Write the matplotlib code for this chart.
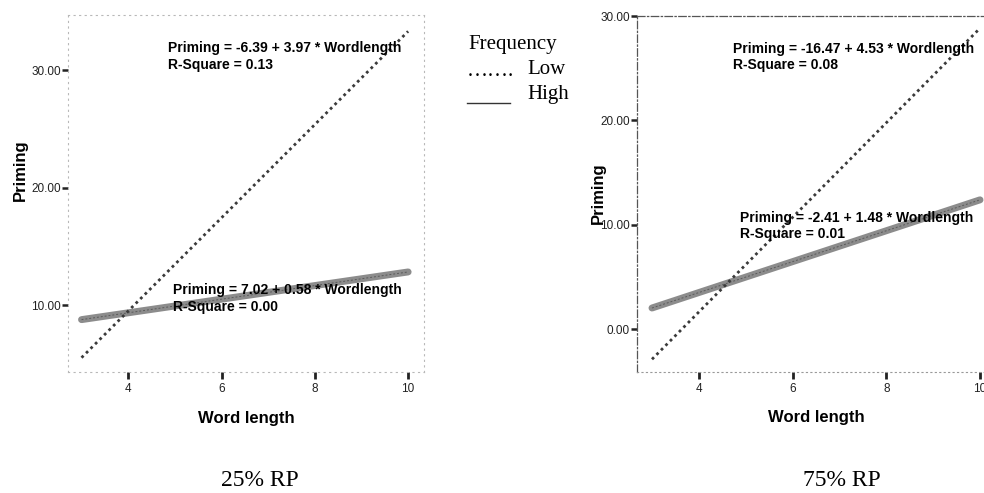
import matplotlib
matplotlib.use("Agg")
import matplotlib.pyplot as plt
from matplotlib.lines import Line2D
import numpy as np

# regression fits
rp_conditions = ['25% RP', '75% RP']
freq_levels = ['Low', 'High']
word_len_range = [3, 10]
low_intercept = [-6.39, -16.47]
low_slope = [3.97, 4.53]
low_r2 = [0.13, 0.08]
high_intercept = [7.02, -2.41]
high_slope = [0.58, 1.48]
high_r2 = [0.00, 0.01]
x_ticks = [4, 6, 8, 10]
y_ticks_left = [10, 20, 30]
y_ticks_right = [0, 10, 20, 30]

plt.rcParams['font.family'] = ['Liberation Sans', 'DejaVu Sans']

W, H = 984, 493
fig = plt.figure(figsize=(W / 100, H / 100), dpi=100)

def px_box(l, t, r, b):
    return [l / W, 1 - b / H, (r - l) / W, (b - t) / H]

ax1 = fig.add_axes(px_box(68, 15, 424, 372))
ax2 = fig.add_axes(px_box(637, 16, 995, 372))
axes = [ax1, ax2]
xlims = [(2.71, 10.34), (2.68, 10.32)]
ylims = [(4.3, 34.7), (-4.1, 30.0)]
yticks = [y_ticks_left, y_ticks_right]
# where the equations sit (data coords, top-left)
eq_low_pos = [(4.86, 32.45), (4.73, 27.5)]
eq_high_pos = [(4.96, 11.85), (4.88, 11.3)]
ylab_xy = [(-0.135, 0.566), (-0.109, 0.503)]

xs = np.array(word_len_range, dtype=float)
for i, ax in enumerate(axes):
    y_low = low_intercept[i] + low_slope[i] * xs
    y_high = high_intercept[i] + high_slope[i] * xs
    ax.plot(xs, y_high, color='#8c8c8c', lw=5, solid_capstyle='round', zorder=2)
    ax.plot(xs, y_high, color='#5a5a5a', lw=0.7, ls=(0, (2, 2)), zorder=2)
    ax.plot(xs, y_low, color='#3a3a3a', lw=2.0, ls=(0, (1, 1.3)), zorder=3)

    ax.set_xlim(*xlims[i])
    ax.set_ylim(*ylims[i])
    ax.set_xticks(x_ticks)
    ax.set_xticklabels([str(t) for t in x_ticks])
    ax.set_yticks(yticks[i])
    ax.set_yticklabels(['%.2f' % t for t in yticks[i]])
    ax.tick_params(axis='y', direction='out', length=4, width=1.8, pad=1,
                   labelsize=8.5, colors='#222222')
    ax.tick_params(axis='x', direction='out', length=5, width=2, pad=3,
                   labelsize=8.5, colors='#222222')

    ax.set_xlabel('Word length', fontsize=12, fontweight='bold')
    ax.xaxis.set_label_coords(0.5, -0.129)
    ax.xaxis.label.set_va('center')
    ax.set_ylabel('Priming', fontsize=12, fontweight='bold')
    ax.yaxis.set_label_coords(*ylab_xy[i])
    ax.yaxis.label.set_va('center')

    ax.text(eq_low_pos[i][0], eq_low_pos[i][1],
            'Priming = %.2f + %.2f * Wordlength\nR-Square = %.2f'
            % (low_intercept[i], low_slope[i], low_r2[i]),
            fontsize=10, fontweight='bold', va='top', ha='left',
            linespacing=1.2, zorder=4)
    ax.text(eq_high_pos[i][0], eq_high_pos[i][1],
            'Priming = %.2f + %.2f * Wordlength\nR-Square = %.2f'
            % (high_intercept[i], high_slope[i], high_r2[i]),
            fontsize=10, fontweight='bold', va='top', ha='left',
            linespacing=1.2, zorder=4)

# frame styles: left panel faint dotted, right panel dash-dot top/left
for s in ax1.spines.values():
    s.set_linestyle((0, (1, 4)))
    s.set_color('#b8b8b8')
    s.set_linewidth(0.8)
for name in ['top', 'left']:
    ax2.spines[name].set_linestyle((0, (6, 2, 1, 2)))
    ax2.spines[name].set_color('#555555')
    ax2.spines[name].set_linewidth(0.9)
ax2.spines['bottom'].set_linestyle((0, (1, 3)))
ax2.spines['bottom'].set_color('#999999')
ax2.spines['right'].set_visible(False)

# panel captions
serif = ['Liberation Serif', 'DejaVu Serif']
fig.text(260 / W, 1 - 480 / H, rp_conditions[0], family=serif, fontsize=17,
         ha='center', va='center')
fig.text(842 / W, 1 - 480 / H, rp_conditions[1], family=serif, fontsize=17,
         ha='center', va='center')

# hand-made legend
fig.text(468 / W, 1 - 45 / H, 'Frequency', family=serif, fontsize=15,
         ha='left', va='center')
fig.text(467 / W, 1 - 71 / H, '\u2026\u2026.', family=serif, fontsize=15,
         ha='left', va='center')
fig.text(527 / W, 1 - 70 / H, freq_levels[0], family=serif, fontsize=15,
         ha='left', va='center')
fig.add_artist(Line2D([467 / W, 510 / W], [1 - 103 / H, 1 - 103 / H],
                      color='#333333', lw=1.0))
fig.text(527 / W, 1 - 94 / H, freq_levels[1], family=serif, fontsize=15,
         ha='left', va='center')

fig.savefig('out.png', dpi=100)
